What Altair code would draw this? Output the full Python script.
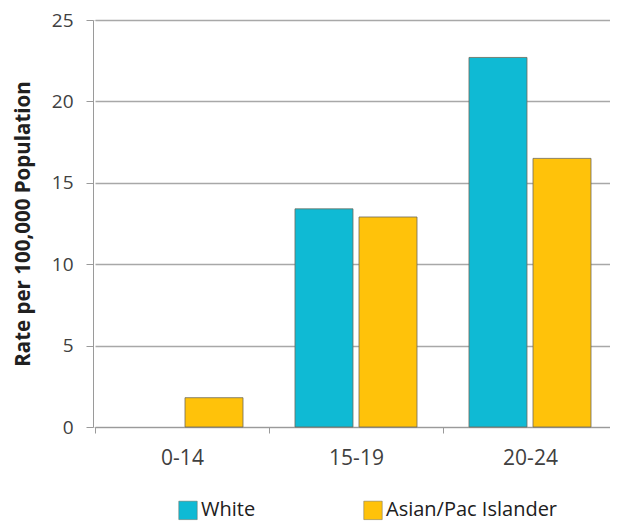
import altair as alt
import pandas as pd

age_groups = ["0-14", "15-19", "20-24"]
white_rates = [0.0, 13.4, 22.7]
asian_rates = [1.8, 12.9, 16.5]
series_names = ["White", "Asian/Pac Islander"]
series_colors = ["#0FBAD4", "#FFC20A"]
y_ticks = [0, 5, 10, 15, 20, 25]

rows = []
for i, g in enumerate(age_groups):
    rows.append({"age": g, "group": series_names[0], "rate": white_rates[i]})
    rows.append({"age": g, "group": series_names[1], "rate": asian_rates[i]})
df = pd.DataFrame(rows)

FONT = "Open Sans"

chart = alt.Chart(df).transform_filter(
    "datum.rate > 0"
).mark_bar(
    stroke="#6e6a5a", strokeWidth=1, strokeOpacity=0.8
).encode(
    x=alt.X("age:N", sort=age_groups, title=None,
            scale=alt.Scale(domain=age_groups, range=[2, 524], paddingInner=0, paddingOuter=0),
            axis=alt.Axis(tickBand="extent", labelAngle=0, labelFontSize=21,
                          labelColor="#404040", labelFont=FONT, labelPadding=14,
                          domainColor="#9a9a9a", tickColor="#9a9a9a", tickSize=6,
                          grid=False)),
    xOffset=alt.XOffset("group:N", sort=series_names,
                        scale=alt.Scale(domain=series_names, paddingInner=0.094, paddingOuter=0.406)),
    y=alt.Y("rate:Q", title="Rate per 100,000 Population",
            scale=alt.Scale(domain=[0, 25], nice=False),
            axis=alt.Axis(values=y_ticks, labelFontSize=19, labelColor="#404040",
                          labelFont=FONT, labelPadding=13, tickSize=7,
                          tickColor="#9a9a9a", domainColor="#9a9a9a",
                          gridColor="#a8a8a8", gridWidth=1.5,
                          titleFont=FONT, titleFontSize=20.5, titleFontWeight="bold",
                          titleColor="#202020", titlePadding=18)),
    color=alt.Color("group:N", sort=series_names,
                    scale=alt.Scale(domain=series_names, range=series_colors),
                    legend=alt.Legend(title=None, orient="none", legendX=85, legendY=480,
                                      direction="horizontal", columns=2,
                                      symbolType="square", symbolSize=340,
                                      symbolStrokeColor="#6e6a5a", symbolStrokeWidth=0.5,
                                      labelFontSize=20, labelFont=FONT, labelLimit=400,
                                      labelColor="#202020", labelOffset=3,
                                      columnPadding=106)),
).properties(
    width=517, height=407,
    autosize=alt.AutoSizeParams(type="none"),
    padding={"left": 85, "top": 12, "right": 0, "bottom": 96},
).configure_view(
    fill="#F2F0EE", stroke=None
).configure(background="white")

chart.save("out.html", embed_options={"renderer": "svg", "actions": False})
